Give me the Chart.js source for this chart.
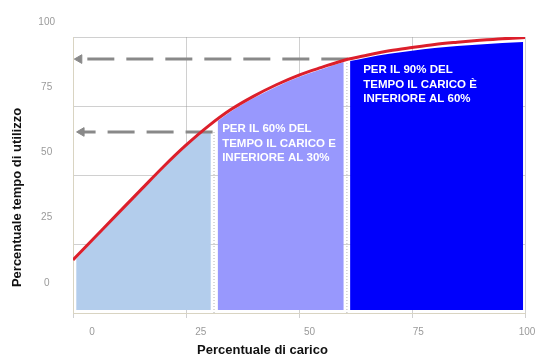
<!DOCTYPE html>
<html>
<head>
<meta charset="utf-8">
<script src="https://cdn.jsdelivr.net/npm/chart.js@4/dist/chart.umd.min.js"></script>
<style>
  html, body { margin: 0; padding: 0; background: #ffffff; }
  canvas { display: block; }
</style>
</head>
<body>
<canvas id="chart" width="543" height="358"></canvas>
<script>
// Load-duration curve: share of operating time (y) against load percentage (x)
const loadPct = [0, 5, 10, 15, 20, 25, 30, 35, 40, 45, 50, 55, 60, 65, 70, 75, 80, 85, 90, 95, 100];
const timePct = [19.2, 27.7, 36.2, 44.6, 53.0, 60.8, 67.8, 73.8, 78.6, 82.7, 86.2, 89.0, 91.6, 93.4, 95.0, 96.2, 97.3, 98.1, 98.8, 99.4, 99.8];

// Shaded bands under the curve (upper edge of each band)
const band1Load = [0.7, 5, 10, 15, 20, 25, 28.6, 30.5];
const band1Time = [19.6, 27.2, 35.6, 44.0, 52.4, 60.2, 65.6, 65.6];
const band2Load = [32, 35, 40, 45, 50, 55, 59.9];
const band2Time = [69.6, 73.1, 77.9, 82.0, 85.5, 88.3, 90.9];
const band3Load = [61.3, 65, 70, 75, 80, 85, 90, 95, 99.6];
const band3Time = [91.3, 92.5, 93.9, 95.0, 96.0, 96.7, 97.3, 97.8, 98.2];
const bandBase = 1.1;

// Dashed guide arrows: time level, where the arrow leaves the curve, where it points to
const arrowTime = [92.0, 65.6];
const arrowFromLoad = [60.8, 31.0];
const arrowToLoad = [1.4, 1.9];

// Dotted separators between bands
const dividerLoad = [31.2, 60.6];
const dividerTop = [65.6, 92.0];

// Axis tick labels
const xTickValues = [0, 25, 50, 75, 100];
const yTickValues = [0, 25, 50, 75, 100];

// Notes written inside the bands
const noteLines = [
  ['PER IL 60% DEL', 'TEMPO IL CARICO E', 'INFERIORE AL 30%'],
  ['PER IL 90% DEL', 'TEMPO IL CARICO \u00C8', 'INFERIORE AL 60%']
];

const pts = (xs, ys) => xs.map((x, i) => ({ x: x, y: ys[i] }));

const gridColor = 'rgba(150,150,150,0.45)';
const axisColor = '#d9d4c2';
const tickFont = { family: '"Liberation Sans", Arial, sans-serif', size: 10 };
const titleFont = { family: '"Liberation Sans", Arial, sans-serif', size: 13, weight: 'bold' };

function band(xs, ys, color) {
  return {
    data: pts(xs, ys),
    borderWidth: 0,
    borderColor: 'rgba(0,0,0,0)',
    backgroundColor: color,
    fill: { value: bandBase },
    pointRadius: 0,
    cubicInterpolationMode: 'monotone',
    order: 3
  };
}

function arrow(i, dashOffset) {
  return {
    data: [{ x: arrowToLoad[i], y: arrowTime[i] }, { x: arrowFromLoad[i], y: arrowTime[i] }],
    borderColor: '#898989',
    borderWidth: 3,
    borderDash: [27, 12],
    borderDashOffset: dashOffset,
    pointStyle: 'triangle',
    pointRotation: -90,
    pointRadius: [5, 0],
    pointBackgroundColor: '#898989',
    pointBorderColor: '#898989',
    pointBorderWidth: 1,
    fill: false,
    order: 1
  };
}

function divider(i) {
  return {
    data: [{ x: dividerLoad[i], y: 0 }, { x: dividerLoad[i], y: dividerTop[i] }],
    borderColor: '#b5b5b5',
    borderWidth: 1,
    borderDash: [1, 2],
    pointRadius: 0,
    fill: false,
    order: 2
  };
}

// Writes the white notes inside the shaded bands
const bandNotesPlugin = {
  id: 'bandNotes',
  afterDraw(chart, args, opts) {
    const { ctx, scales } = chart;
    const x = scales.x, y = scales.y;
    ctx.save();
    ctx.font = opts.font;
    ctx.fillStyle = opts.color;
    ctx.textAlign = 'left';
    ctx.textBaseline = 'middle';
    opts.items.forEach(item => {
      const px = x.getPixelForValue(item.load);
      const py = y.getPixelForValue(item.time);
      item.lines.forEach((line, k) => ctx.fillText(line, px, py + k * opts.lineGap));
    });
    ctx.restore();
  }
};

new Chart(document.getElementById('chart'), {
  type: 'line',
  data: {
    datasets: [
      {
        data: pts(loadPct, timePct),
        borderColor: '#dc1f2b',
        borderWidth: 3,
        pointRadius: 0,
        cubicInterpolationMode: 'monotone',
        fill: false,
        order: 0
      },
      arrow(0, 31),
      arrow(1, 13),
      divider(0),
      divider(1),
      band(band1Load, band1Time, '#b3cdec'),
      band(band2Load, band2Time, '#9898fd'),
      band(band3Load, band3Time, '#0000fc')
    ]
  },
  options: {
    responsive: false,
    animation: false,
    events: [],
    layout: { padding: { top: 37, right: 18, bottom: 0, left: 0 } },
    plugins: {
      legend: { display: false },
      tooltip: { enabled: false },
      title: {
        display: true,
        position: 'bottom',
        text: 'Percentuale di carico',
        color: '#111111',
        font: titleFont,
        padding: { top: 0, bottom: 0 }
      },
      subtitle: {
        display: true,
        position: 'left',
        text: 'Percentuale tempo di utilizzo',
        color: '#111111',
        font: titleFont,
        padding: { top: 10, bottom: 2 }
      },
      bandNotes: {
        font: 'bold 11.5px "Liberation Sans", Arial, sans-serif',
        color: '#ffffff',
        lineGap: 14.5,
        items: [
          { load: 33.0, time: 66.7, lines: noteLines[0] },
          { load: 64.2, time: 88.0, lines: noteLines[1] }
        ]
      }
    },
    scales: {
      x: {
        type: 'linear',
        position: 'bottom',
        weight: 0,
        z: 1,
        min: 0,
        max: 100,
        ticks: { display: false, stepSize: 25 },
        grid: { color: gridColor, drawTicks: true, tickLength: 5, tickColor: '#d0d0d0' },
        border: { display: true, color: axisColor }
      },
      xLabels: {
        type: 'linear',
        position: 'bottom',
        weight: 1,
        min: -3.22,
        max: 100.69,
        afterBuildTicks: s => { s.ticks = xTickValues.map(v => ({ value: v })); },
        afterFit: s => { s.height = 24.4; },
        ticks: { color: '#9a9a9a', font: tickFont, padding: 8, labelOffset: 5 },
        grid: { display: false, drawTicks: false },
        border: { display: false }
      },
      y: {
        type: 'linear',
        position: 'left',
        weight: 0,
        z: 1,
        min: 0,
        max: 100,
        ticks: { display: false, stepSize: 25 },
        grid: { color: gridColor, drawTicks: false },
        border: { display: true, color: axisColor }
      },
      yLabels: {
        type: 'linear',
        position: 'left',
        weight: 1,
        min: -5.75,
        max: 100,
        afterBuildTicks: s => { s.ticks = yTickValues.map(v => ({ value: v })); },
        afterFit: s => { s.width = 45.4; },
        ticks: { color: '#9a9a9a', font: tickFont, padding: 18, crossAlign: 'center', labelOffset: -15 },
        grid: { display: false, drawTicks: false },
        border: { display: false }
      }
    }
  },
  plugins: [bandNotesPlugin]
});
</script>
</body>
</html>
